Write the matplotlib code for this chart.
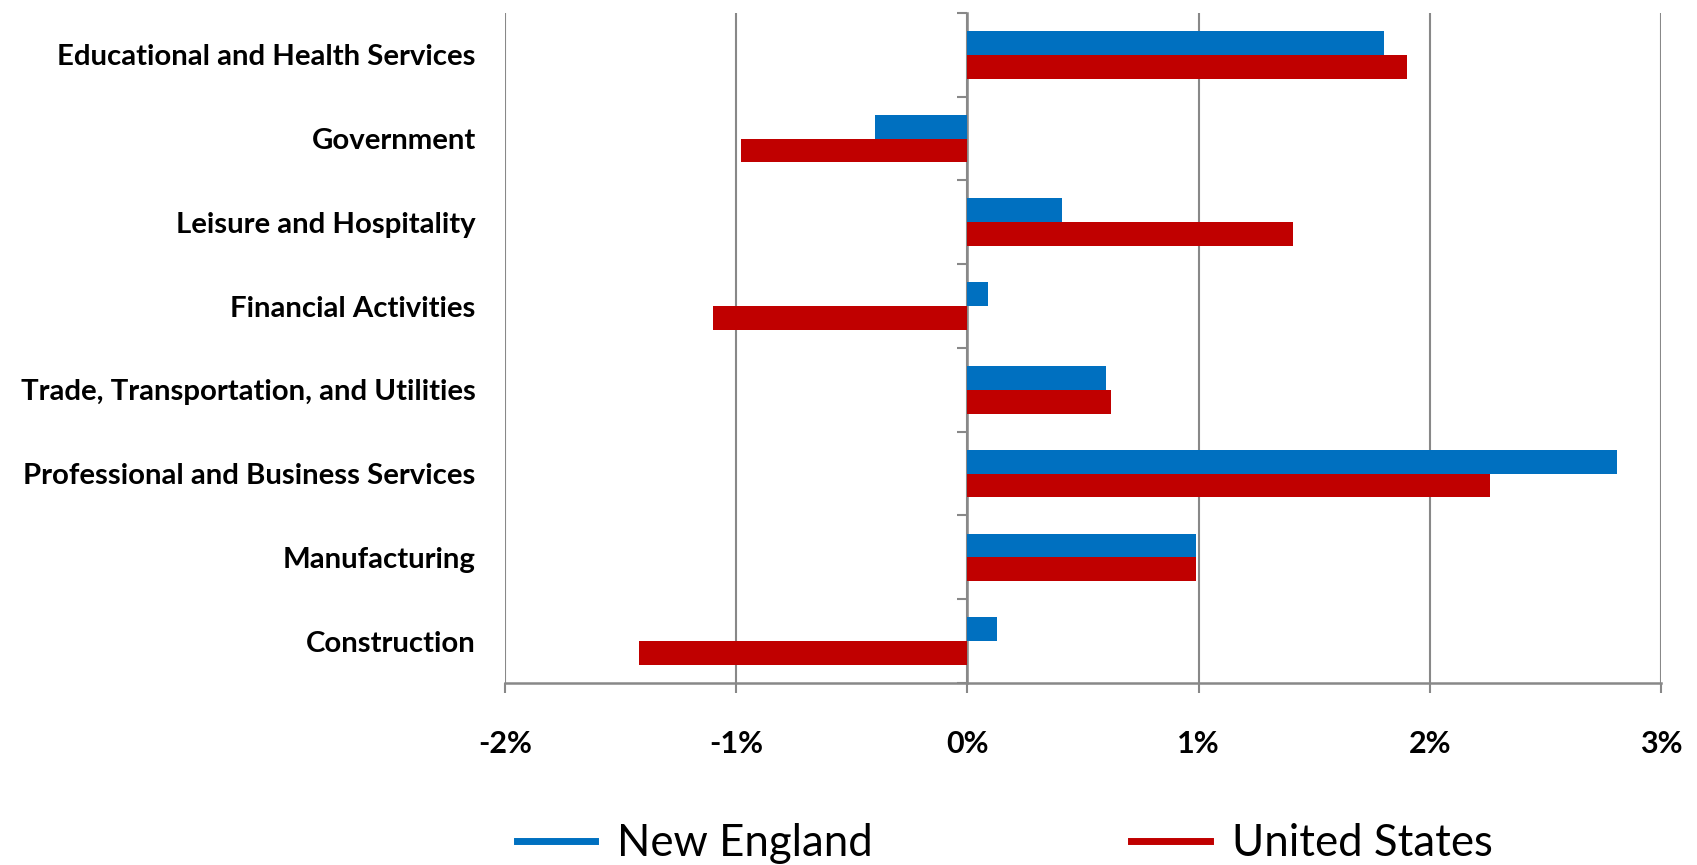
import numpy as np
import matplotlib.pyplot as plt
from matplotlib.lines import Line2D
from matplotlib.ticker import FuncFormatter

# Employment growth by sector, percent
sectors = [
    'Educational and Health Services',
    'Government',
    'Leisure and Hospitality',
    'Financial Activities',
    'Trade, Transportation, and Utilities',
    'Professional and Business Services',
    'Manufacturing',
    'Construction',
]
new_england = [1.80, -0.40, 0.41, 0.09, 0.60, 2.81, 0.99, 0.13]
united_states = [1.90, -0.98, 1.41, -1.10, 0.62, 2.26, 0.99, -1.42]

BLUE = '#0070C0'
RED = '#C00000'
GRID = '#888888'

plt.rcParams['font.family'] = ['Lato', 'DejaVu Sans']

fig = plt.figure(figsize=(16.97, 8.65), dpi=100)
ax = fig.add_axes([0.2976, 0.2104, 0.6812, 0.7746])

n = len(sectors)
y = np.arange(n)[::-1].astype(float)
h = 0.285
ax.barh(y + h / 2, new_england, height=h, color=BLUE, zorder=3)
ax.barh(y - h / 2, united_states, height=h, color=RED, zorder=3)

ax.set_xlim(-2, 3)
ax.set_ylim(-0.5, n - 0.5)
ax.set_xticks(range(-2, 4))
ax.xaxis.set_major_formatter(FuncFormatter(lambda v, p: f'{v:.0f}%'))
ax.grid(axis='x', color=GRID, linewidth=1.5, zorder=0)

for side in ['left', 'right', 'top']:
    ax.spines[side].set_visible(False)
ax.spines['bottom'].set_color(GRID)
ax.spines['bottom'].set_linewidth(1.8)
ax.tick_params(axis='x', direction='out', length=7, width=1.5, color=GRID,
               pad=27, labelsize=22)
for lbl in ax.get_xticklabels():
    lbl.set_fontweight('bold')

ax.set_yticks(y)
ax.set_yticklabels(sectors, fontsize=21.2, fontweight='bold')
ax.tick_params(axis='y', length=0, pad=21)

# category axis drawn at zero with boundary ticks
x0 = (0 - ax.get_xlim()[0]) / (ax.get_xlim()[1] - ax.get_xlim()[0])
cat_axis = ax.secondary_yaxis(x0)
cat_axis.set_yticks(np.arange(-0.5, n, 1.0))
cat_axis.set_yticklabels([])
cat_axis.spines['left'].set_color(GRID)
cat_axis.spines['left'].set_linewidth(1.8)
cat_axis.tick_params(axis='y', direction='out', length=7, width=1.5, color=GRID)

handles = [Line2D([], [], color=BLUE, linewidth=5),
           Line2D([], [], color=RED, linewidth=5)]
fig.legend(handles, ['New England', 'United States'], loc='center',
           bbox_to_anchor=(0.592, 0.025), ncol=2, frameon=False, fontsize=31.5,
           handlelength=1.8, handletextpad=0.5, columnspacing=5.9)

fig.savefig('out.png', dpi=100)
